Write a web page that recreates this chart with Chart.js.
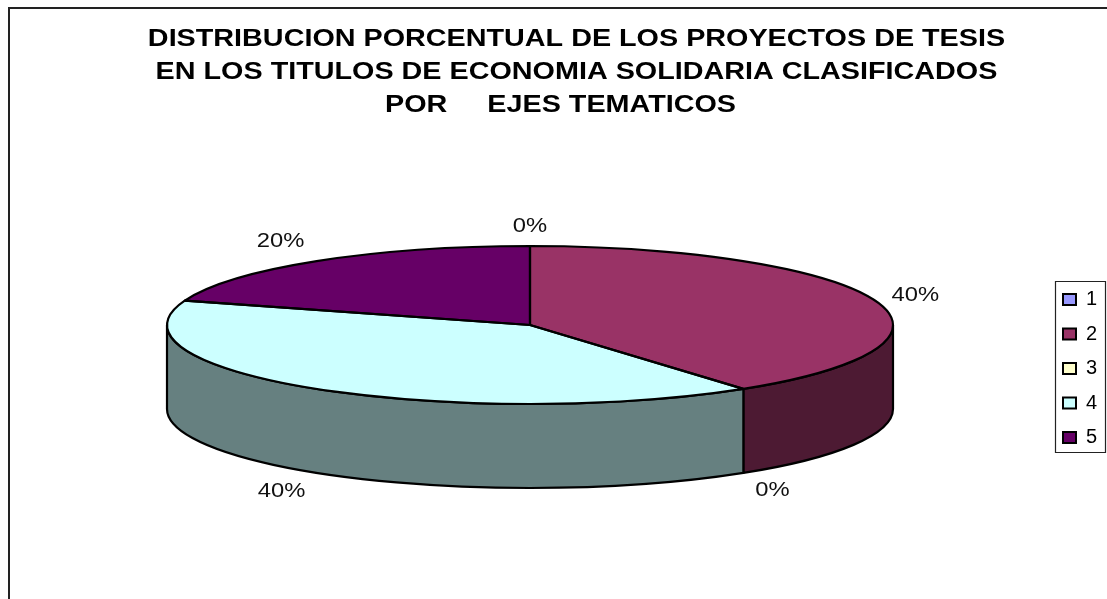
<!DOCTYPE html>
<html><head><meta charset="utf-8">
<style>html,body{margin:0;padding:0;background:#fff}canvas{display:block}</style>
<script src="https://cdn.jsdelivr.net/npm/chart.js@4"></script>
</head><body><canvas id="c" width="1107" height="599"></canvas>
<script>
const categories = ['1','2','3','4','5'];
const values = [0,40,0,40,20];
const sliceColors = ['#9999FF','#993366','#FFFFCC','#CCFFFF','#660066'];
const titleLines = ['DISTRIBUCION PORCENTUAL DE LOS PROYECTOS DE TESIS','EN LOS TITULOS DE ECONOMIA SOLIDARIA CLASIFICADOS','POR     EJES TEMATICOS    '];
const valueLabels = ['0%','40%','0%','40%','20%'];
// pixel offsets of each value label from the rim point of its slice
const labelOffsets = [[0,-19],[40,-5],[29,18],[-35,19],[-36,-19]];
const PIE = {cx:530, cy:325, rx:363, ry:79, depth:84};
const STRETCH = 1.25;
const FONT = '"Liberation Sans", Arial, sans-serif';

function shade(hex){
  const n=parseInt(hex.slice(1),16);
  return 'rgb('+[(n>>16)&255,(n>>8)&255,n&255].map(v=>Math.round(v/2)).join(',')+')';
}
const pie3d = {
  id:'pie3d',
  afterLayout(chart){
    const t=chart.titleBlock; t.left=46; t.right=1107;
    if(!t._wrapped){
      t._wrapped=true;
      const orig=t.draw, mid=(t.left+t.right)/2;
      t.draw=function(){
        const c=chart.ctx; c.save();
        c.translate(mid,0); c.scale(STRETCH,1); c.translate(-mid,0);
        orig.apply(this,arguments); c.restore();
      };
    }
    const l=chart.legend; const pad=l.options.labels.padding;
    l.left=1063-pad; l.right=1105; l.top=289.5-pad; l.bottom=599;
  },
  beforeDraw(chart){
    const c=chart.ctx; c.save();
    c.strokeStyle='#222'; c.lineWidth=2;
    c.beginPath(); c.moveTo(9,599); c.lineTo(9,8); c.lineTo(1107,8); c.stroke();
    c.lineWidth=1.2; c.fillStyle='#fff';
    c.beginPath(); c.rect(1055.5,281.5,50,171); c.fill(); c.stroke();
    c.restore();
  },
  beforeDatasetDraw(chart,args){
    const c=chart.ctx, arcs=args.meta.data, {cx,cy,rx,ry,depth}=PIE;
    c.save(); c.lineWidth=2.2; c.strokeStyle='#000'; c.lineJoin='round';
    arcs.forEach((a,i)=>{
      const s=Math.max(a.startAngle,0), e=Math.min(a.endAngle,Math.PI);
      if(e<=s) return;
      c.beginPath();
      c.ellipse(cx,cy,rx,ry,0,s,e);
      c.ellipse(cx,cy+depth,rx,ry,0,e,s,true);
      c.closePath();
      c.fillStyle=shade(sliceColors[i]); c.fill(); c.stroke();
    });
    c.restore();
    c.save();
    const r=arcs[0].outerRadius;
    c.translate(cx,cy); c.scale(rx/r,ry/r); c.translate(-arcs[0].x,-arcs[0].y);
  },
  afterDatasetDraw(chart,args){
    const c=chart.ctx, arcs=args.meta.data, {cx,cy,rx,ry,depth}=PIE;
    c.restore();
    c.save(); c.lineWidth=2.2; c.strokeStyle='#000'; c.lineJoin='round';
    arcs.forEach(a=>{
      if(a.endAngle-a.startAngle<=0) return;
      c.beginPath(); c.moveTo(cx,cy);
      c.ellipse(cx,cy,rx,ry,0,a.startAngle,a.endAngle);
      c.closePath(); c.stroke();
    });
    c.fillStyle='#111'; c.font='19.5px '+FONT; c.textAlign='center'; c.textBaseline='middle';
    arcs.forEach((a,i)=>{
      const m=(a.startAngle+a.endAngle)/2;
      const sy=Math.sin(m), x=cx+rx*Math.cos(m), y=cy+ry*sy+(sy>0?depth:0);
      c.save();
      c.translate(x+labelOffsets[i][0],y+labelOffsets[i][1]); c.scale(1.22,1);
      c.fillText(valueLabels[i],0,0);
      c.restore();
    });
    c.restore();
  }
};
new Chart(document.getElementById('c'),{
  type:'pie',
  data:{labels:categories,datasets:[{data:values,backgroundColor:sliceColors,borderWidth:0}]},
  plugins:[pie3d],
  options:{
    responsive:false,animation:false,
    plugins:{
      tooltip:{enabled:false},
      title:{display:true,text:titleLines,color:'#000',align:'center',
        font:{family:FONT,size:23,weight:'bold',lineHeight:33/23},padding:{top:23,bottom:10}},
      legend:{display:true,position:'right',align:'start',
        labels:{boxWidth:13,boxHeight:11,padding:14.5,color:'#111',font:{family:FONT,size:20},
          generateLabels(chart){
            return categories.map((t,i)=>({text:t,fillStyle:sliceColors[i],strokeStyle:'#000',lineWidth:2,index:i,hidden:false}));
          }}}
    }
  }
});
</script></body></html>
